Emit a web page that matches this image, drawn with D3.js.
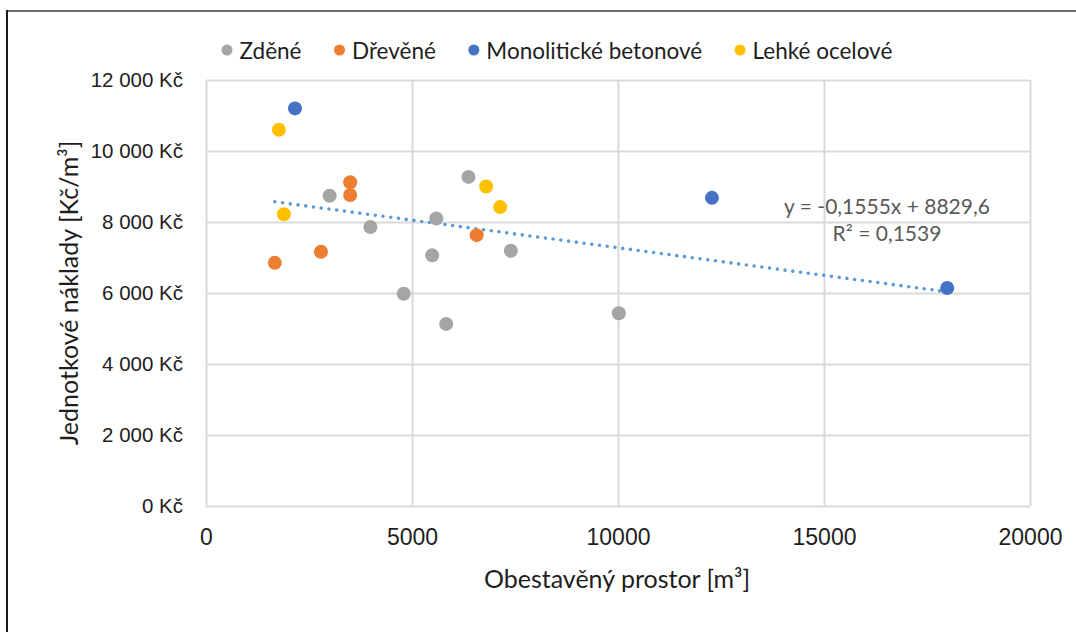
<!DOCTYPE html>
<html>
<head>
<meta charset="utf-8">
<script src="https://cdn.jsdelivr.net/npm/d3@7"></script>
<style>
  body { margin: 0; background: #fff; }
  svg { display: block; font-family: Lato, "Open Sans", sans-serif; }
  .grid line { stroke: #d9d9d9; stroke-width: 2; }
  .grid .domain { display: none; }
  .grid text { fill: #1e1e1e; font-size: 20.5px; }
  .xgrid text { font-size: 23px; }
</style>
</head>
<body>
<div id="graph"></div>
<script>
// series names and colours (legend order)
var seriesNames = ['Zděné', 'Dřevěné', 'Monolitické betonové', 'Lehké ocelové'];
var seriesColors = ['#a5a5a5', '#ed7d31', '#4472c4', '#ffc000'];

// values: x = obestavěný prostor [m3], y = Kč/m3
var zdeneX = [3000, 3990, 4800, 6370, 5590, 5490, 7400, 5830, 10020];
var zdeneY = [8740, 7860, 5980, 9270, 8100, 7060, 7190, 5130, 5430];
var dreveneX = [3500, 3500, 1670, 2790, 6570];
var dreveneY = [9120, 8760, 6850, 7160, 7630];
var monoX = [2160, 12280, 17990];
var monoY = [11200, 8680, 6140];
var ocelX = [1770, 1890, 6800, 7140];
var ocelY = [10600, 8220, 9000, 8420];

// axis ticks
var xTicks = [0, 5000, 10000, 15000, 20000];
var xTickLabels = ['0', '5000', '10000', '15000', '20000'];
var yTicks = [0, 2000, 4000, 6000, 8000, 10000, 12000];
var yTickLabels = ['0 Kč', '2 000 Kč', '4 000 Kč', '6 000 Kč', '8 000 Kč', '10 000 Kč', '12 000 Kč'];

// linear trendline shown on the chart
var trendSlope = -0.1555;
var trendIntercept = 8829.6;
var trendLabels = ['y = -0,1555x + 8829,6', 'R² = 0,1539'];

var W = 1076, H = 632;
var plot = {left: 206, top: 80, right: 1030, bottom: 506};

var x = d3.scaleLinear().domain([0, 20000]).range([plot.left, plot.right]);
var y = d3.scaleLinear().domain([0, 12000]).range([plot.bottom, plot.top]);

var svg = d3.select('#graph').append('svg')
  .attr('width', W)
  .attr('height', H);

// outer frame (only left and top edges are visible)
svg.append('line').attr('x1', 6).attr('x2', W).attr('y1', 11).attr('y2', 11)
  .attr('stroke', '#6b6b6b').attr('stroke-width', 2);
svg.append('line').attr('x1', 7).attr('x2', 7).attr('y1', 10).attr('y2', H)
  .attr('stroke', '#1a1a1a').attr('stroke-width', 2);

// gridlines + tick labels
svg.append('g')
  .attr('class', 'grid')
  .attr('transform', 'translate(' + plot.left + ',0)')
  .call(d3.axisLeft(y)
    .tickValues(yTicks)
    .tickSize(-(plot.right - plot.left))
    .tickPadding(23)
    .tickFormat(function(d, i) { return yTickLabels[i]; }));

svg.append('g')
  .attr('class', 'grid xgrid')
  .attr('transform', 'translate(0,' + plot.bottom + ')')
  .call(d3.axisBottom(x)
    .tickValues(xTicks)
    .tickSize(-(plot.bottom - plot.top))
    .tickPadding(23)
    .tickFormat(function(d, i) { return xTickLabels[i]; }));

// axis titles
svg.append('text')
  .attr('x', 617).attr('y', 578)
  .attr('text-anchor', 'middle').attr('dominant-baseline', 'central')
  .attr('font-size', 25).attr('fill', '#1e1e1e')
  .text('Obestavěný prostor [m³]');

svg.append('text')
  .attr('transform', 'translate(68,' + ((plot.top + plot.bottom) / 2) + ') rotate(-90)')
  .attr('text-anchor', 'middle').attr('dominant-baseline', 'central')
  .attr('font-size', 25).attr('fill', '#1e1e1e')
  .text('Jednotkové náklady [Kč/m³]');

// build point list from the series arrays
var seriesX = [zdeneX, dreveneX, monoX, ocelX];
var seriesY = [zdeneY, dreveneY, monoY, ocelY];
var points = [];
seriesX.forEach(function(xs, s) {
  xs.forEach(function(v, i) {
    points.push({s: s, x: v, y: seriesY[s][i]});
  });
});

// trendline over the whole data range
var xr = d3.extent(points, function(d) { return d.x; });
var trend = xr.map(function(v) { return {x: v, y: trendSlope * v + trendIntercept}; });

svg.append('path')
  .datum(trend)
  .attr('fill', 'none')
  .attr('stroke', '#5b9bd5')
  .attr('stroke-width', 3.6)
  .attr('stroke-linecap', 'round')
  .attr('stroke-dasharray', '0,7.8')
  .attr('d', d3.line().x(function(d) { return x(d.x); }).y(function(d) { return y(d.y); }));

// markers
svg.append('g').selectAll('circle')
  .data(points)
  .enter().append('circle')
  .attr('cx', function(d) { return x(d.x); })
  .attr('cy', function(d) { return y(d.y); })
  .attr('r', 7)
  .attr('fill', function(d) { return seriesColors[d.s]; });

// trendline label
var tl = svg.append('text')
  .attr('text-anchor', 'middle')
  .attr('font-size', 21)
  .attr('fill', '#595959');
tl.selectAll('tspan')
  .data(trendLabels)
  .enter().append('tspan')
  .attr('x', 887)
  .attr('y', function(d, i) { return 205 + i * 27; })
  .attr('dominant-baseline', 'central')
  .text(function(d) { return d; });

// legend
var legend = svg.append('g');
var lx = 227;
seriesNames.forEach(function(name, i) {
  legend.append('circle')
    .attr('cx', lx).attr('cy', 50).attr('r', 5.5)
    .attr('fill', seriesColors[i]);
  var t = legend.append('text')
    .attr('x', lx + 12.5).attr('y', 50)
    .attr('dominant-baseline', 'central')
    .attr('font-size', 22.5).attr('fill', '#1e1e1e')
    .text(name);
  lx += 12.5 + t.node().getComputedTextLength() + 38;
});
</script>
</body>
</html>
